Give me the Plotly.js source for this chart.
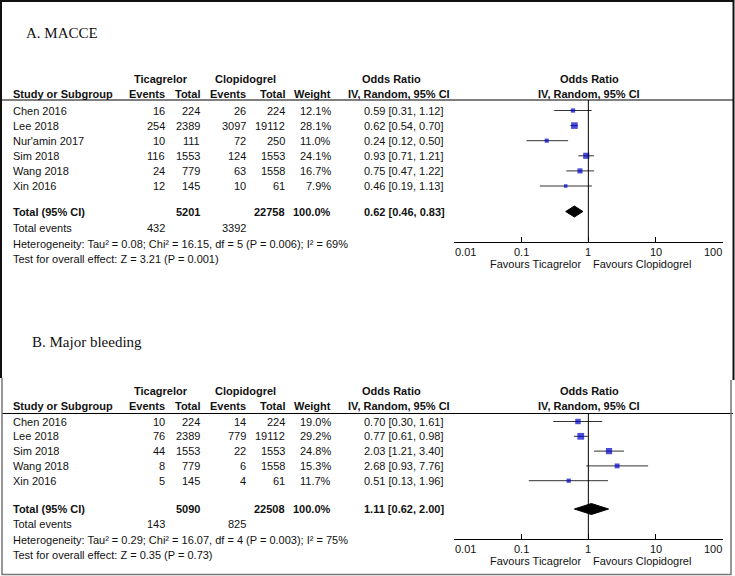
<!DOCTYPE html>
<html>
<head>
<meta charset="utf-8">
<script src="https://cdn.plot.ly/plotly-3.0.1.min.js"></script>
<style>html,body{margin:0;padding:0;background:#fff;}#chart{width:735px;height:576px;}</style>
</head>
<body>
<div id="chart"></div>
<script>
// ---------- Panel A: MACCE ----------
const titleA = "A. MACCE";
const studiesA = ["Chen 2016", "Lee 2018", "Nur'amin 2017", "Sim 2018", "Wang 2018", "Xin 2016"];
const ticaEventsA = [16, 254, 10, 116, 24, 12];
const ticaTotalA = [224, 2389, 111, 1553, 779, 145];
const clopEventsA = [26, 3097, 72, 124, 63, 10];
const clopTotalA = [224, 19112, 250, 1553, 1558, 61];
const weightA = [12.1, 28.1, 11.0, 24.1, 16.7, 7.9];
const orA = [0.59, 0.62, 0.24, 0.93, 0.75, 0.46];
const loA = [0.31, 0.54, 0.12, 0.71, 0.47, 0.19];
const hiA = [1.12, 0.70, 0.50, 1.21, 1.22, 1.13];
const pooledA = [0.62, 0.46, 0.83];          // OR, lower, upper
const sumTotalsA = [5201, 22758];            // ticagrelor, clopidogrel
const sumEventsA = [432, 3392];
const sumWeightA = 100.0;
const hetA = "Heterogeneity: Tau² = 0.08; Chi² = 16.15, df = 5 (P = 0.006); I² = 69%";
const testA = "Test for overall effect: Z = 3.21 (P = 0.001)";

// ---------- Panel B: Major bleeding ----------
const titleB = "B. Major bleeding";
const studiesB = ["Chen 2016", "Lee 2018", "Sim 2018", "Wang 2018", "Xin 2016"];
const ticaEventsB = [10, 76, 44, 8, 5];
const ticaTotalB = [224, 2389, 1553, 779, 145];
const clopEventsB = [14, 779, 22, 6, 4];
const clopTotalB = [224, 19112, 1553, 1558, 61];
const weightB = [19.0, 29.2, 24.8, 15.3, 11.7];
const orB = [0.70, 0.77, 2.03, 2.68, 0.51];
const loB = [0.30, 0.61, 1.21, 0.93, 0.13];
const hiB = [1.61, 0.98, 3.40, 7.76, 1.96];
const pooledB = [1.11, 0.62, 2.00];
const sumTotalsB = [5090, 22508];
const sumEventsB = [143, 825];
const sumWeightB = 100.0;
const hetB = "Heterogeneity: Tau² = 0.29; Chi² = 16.07, df = 4 (P = 0.003); I² = 75%";
const testB = "Test for overall effect: Z = 0.35 (P = 0.73)";

const tickVals = [0.01, 0.1, 1, 10, 100];
const tickText = ["0.01", "0.1", "1", "10", "100"];
const favLeft = "Favours Ticagrelor";
const favRight = "Favours Clopidogrel";

// ---------- layout helpers ----------
const W = 735, H = 576;
const SANS = "Liberation Sans, Arial, sans-serif";
const SERIF = "Liberation Serif, Times New Roman, serif";
const px = p => p / W;
const py = p => 1 - p / H;
const annotations = [];
const shapes = [];
const traces = [];

function txt(t, x, y, anchor, bold, opts) {
  opts = opts || {};
  annotations.push({
    text: bold ? "<b>" + t + "</b>" : t,
    x: opts.xref ? x : px(x), y: py(y), xref: opts.xref || "paper", yref: "paper",
    xanchor: anchor, yanchor: "middle", showarrow: false,
    borderpad: 0,
    font: {family: opts.family || SANS, size: opts.size || 11, color: "#111"}
  });
}
const fmt = v => v.toFixed(2);

// panel geometry (pixels)
const colEvT = 166, colTotT = 201, colEvC = 247, colTotC = 286, colW = 332, colOR = 363, colStudy = 12;

function panel(cfg) {
  const {title, titleY, hdrY, lineY, rowY0, rowStep, totalY, eventsY, hetY, testY, axisY,
         studies, te, tt, ce, ct, w, or, lo, hi, pooled, sumT, sumE, sumW, het, test, xa, ya} = cfg;
  txt(title, cfg.titleX, titleY, "left", false, {family: SERIF, size: 15});
  // headers
  txt("Ticagrelor", 161, hdrY, "center", true);
  txt("Clopidogrel", 245, hdrY, "center", true);
  txt("Odds Ratio", 361, hdrY, "left", true);
  txt("Odds Ratio", 589, hdrY, "center", true);
  const h2 = hdrY + 15;
  txt("Study or Subgroup", colStudy, h2, "left", true);
  txt("Events", colEvT, h2, "right", true);
  txt("Total", colTotT, h2, "right", true);
  txt("Events", colEvC, h2, "right", true);
  txt("Total", colTotC, h2, "right", true);
  txt("Weight", colW, h2, "right", true);
  txt("IV, Random, 95% CI", 347, h2, "left", true);
  txt("IV, Random, 95% CI", 589, h2, "center", true);
  shapes.push({type: "line", xref: "paper", yref: "paper", x0: px(2), x1: px(733),
               y0: py(lineY), y1: py(lineY), line: {color: "#000", width: 1.2}});
  const ys = studies.map((s, i) => rowY0 + i * rowStep);
  studies.forEach((s, i) => {
    const y = ys[i];
    txt(s, colStudy, y, "left");
    txt(String(te[i]), colEvT, y, "right");
    txt(String(tt[i]), colTotT, y, "right");
    txt(String(ce[i]), colEvC, y, "right");
    txt(String(ct[i]), colTotC, y, "right");
    txt(w[i].toFixed(1) + "%", colW, y, "right");
    txt(fmt(or[i]) + " [" + fmt(lo[i]) + ", " + fmt(hi[i]) + "]", colOR, y, "left");
  });
  // totals
  txt("Total (95% CI)", colStudy, totalY, "left", true);
  txt(String(sumT[0]), colTotT, totalY, "right", true);
  txt(String(sumT[1]), colTotC, totalY, "right", true);
  txt(sumW.toFixed(1) + "%", colW, totalY, "right", true);
  txt(fmt(pooled[0]) + " [" + fmt(pooled[1]) + ", " + fmt(pooled[2]) + "]", colOR, totalY, "left", true);
  txt("Total events", colStudy, eventsY, "left");
  txt(String(sumE[0]), colEvT, eventsY, "right");
  txt(String(sumE[1]), colEvC, eventsY, "right");
  txt(het, colStudy, hetY, "left");
  txt(test, colStudy, testY, "left");
  // axis tick labels (end labels kept inside the axis span)
  tickVals.forEach((v, i) => {
    const anchor = i === 0 ? "left" : (i === tickVals.length - 1 ? "right" : "center");
    txt(tickText[i], Math.log10(v), axisY + 10, anchor, false, {xref: xa});
  });
  // favours labels
  txt(favLeft, Math.log10(0.81), axisY + 22.5, "right", false, {xref: xa});
  txt(favRight, Math.log10(1.15), axisY + 22.5, "left", false, {xref: xa});
  // null line
  shapes.push({type: "line", xref: xa, yref: ya, x0: 1, x1: 1, y0: lineY, y1: axisY,
               line: {color: "#000", width: 1}});
  // study estimates
  traces.push({
    type: "scatter", mode: "markers", xaxis: xa, yaxis: ya, x: or, y: ys,
    marker: {symbol: "square", color: "#0000CC", size: w.map(v => 1.25 * Math.sqrt(v)), line: {width: 0}},
    error_x: {type: "data", symmetric: false, array: hi.map((v, i) => v - or[i]),
              arrayminus: lo.map((v, i) => or[i] - v), color: "#333", thickness: 1, width: 0},
    hoverinfo: "skip", showlegend: false, cliponaxis: false
  });
  // pooled diamond
  const dh = 5.5;
  traces.push({
    type: "scatter", mode: "lines", xaxis: xa, yaxis: ya,
    x: [pooled[1], pooled[0], pooled[2], pooled[0], pooled[1]],
    y: [totalY, totalY - dh, totalY, totalY + dh, totalY],
    fill: "toself", fillcolor: "#000", line: {color: "#000", width: 1},
    hoverinfo: "skip", showlegend: false
  });
}

panel({title: titleA, titleX: 25, titleY: 33, hdrY: 79, lineY: 100, rowY0: 110.5, rowStep: 15.1,
  totalY: 211.5, eventsY: 228.5, hetY: 244, testY: 259.5, axisY: 241.7,
  studies: studiesA, te: ticaEventsA, tt: ticaTotalA, ce: clopEventsA, ct: clopTotalA, w: weightA,
  or: orA, lo: loA, hi: hiA, pooled: pooledA, sumT: sumTotalsA, sumE: sumEventsA, sumW: sumWeightA,
  het: hetA, test: testA, xa: "x", ya: "y"});
panel({title: titleB, titleX: 31, titleY: 342, hdrY: 391, lineY: 413.5, rowY0: 421.5, rowStep: 14.8,
  totalY: 509, eventsY: 524, hetY: 539.5, testY: 555, axisY: 538.7,
  studies: studiesB, te: ticaEventsB, tt: ticaTotalB, ce: clopEventsB, ct: clopTotalB, w: weightB,
  or: orB, lo: loB, hi: hiB, pooled: pooledB, sumT: sumTotalsB, sumE: sumEventsB, sumW: sumWeightB,
  het: hetB, test: testB, xa: "x2", ya: "y2"});

// frame lines
shapes.push({type: "path", xref: "paper", yref: "paper",
  path: `M ${px(1)} ${py(378)} L ${px(1)} ${py(1)} L ${px(733.5)} ${py(1)} L ${px(733.5)} ${py(380)}`,
  line: {color: "#111", width: 2}});
shapes.push({type: "path", xref: "paper", yref: "paper",
  path: `M ${px(2)} ${py(378)} L ${px(2)} ${py(574.5)} L ${px(731)} ${py(574.5)} L ${px(731)} ${py(380)}`,
  line: {color: "#777", width: 1.5}});

const xCommon = {
  type: "log", range: [-2, 2], domain: [px(454), px(722.7)],
  showline: true, linecolor: "#000", linewidth: 1,
  ticks: "inside", ticklen: 5, tickcolor: "#000", tickwidth: 1,
  tickvals: tickVals, showticklabels: false, showgrid: false, zeroline: false, fixedrange: true
};
const layout = {
  width: W, height: H, margin: {l: 0, r: 0, t: 0, b: 0},
  paper_bgcolor: "#fff", plot_bgcolor: "rgba(0,0,0,0)", showlegend: false,
  xaxis: Object.assign({}, xCommon, {anchor: "y"}),
  yaxis: {domain: [py(241.7), 1], range: [241.7, 0], visible: false, fixedrange: true},
  xaxis2: Object.assign({}, xCommon, {anchor: "y2"}),
  yaxis2: {domain: [py(538.7), py(280)], range: [538.7, 280], visible: false, fixedrange: true},
  annotations: annotations, shapes: shapes
};
Plotly.newPlot("chart", traces, layout, {staticPlot: true, displayModeBar: false});
</script>
</body>
</html>
